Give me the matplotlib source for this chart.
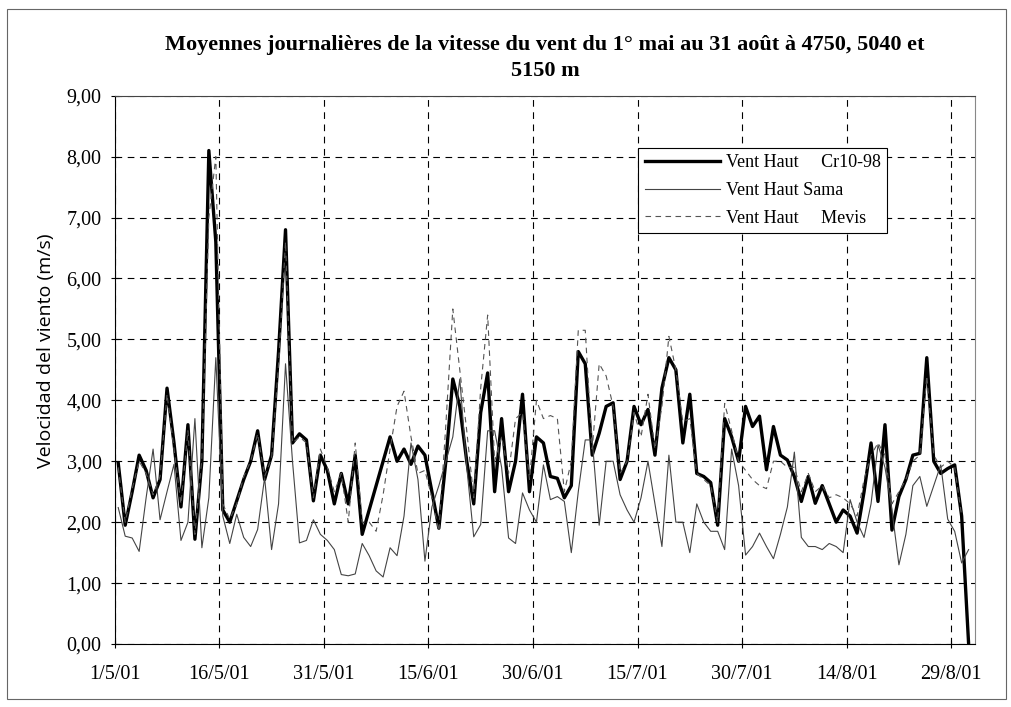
import matplotlib
matplotlib.use("Agg")
import matplotlib.pyplot as plt
from matplotlib.ticker import FuncFormatter, MultipleLocator
from matplotlib.patches import Rectangle
import numpy as np
import pandas as pd

# daily means, 1 May to 31 Aug 2001 (m/s)
cr10 = [2.97, 1.95, 2.5, 3.1, 2.85, 2.4, 2.7, 4.2, 3.3, 2.25,
        3.6, 1.72, 3.0, 8.1, 6.6, 2.2, 2.0, 2.35, 2.7, 3.0,
        3.5, 2.7, 3.1, 4.8, 6.8, 3.3, 3.45, 3.35, 2.35, 3.1,
        2.85, 2.3, 2.8, 2.3, 3.1, 1.8, 2.2, 2.6, 3.0, 3.4,
        3.0, 3.2, 2.95, 3.25, 3.1, 2.5, 1.9, 3.0, 4.35, 3.9,
        3.0, 2.3, 3.8, 4.45, 2.5, 3.7, 2.5, 3.0, 4.1, 2.5,
        3.4, 3.3, 2.75, 2.72, 2.4, 2.6, 4.8, 4.6, 3.1, 3.46,
        3.9, 3.96, 2.7, 3.0, 3.9, 3.6, 3.85, 3.1, 4.2, 4.7,
        4.5, 3.3, 4.1, 2.8, 2.75, 2.65, 1.95, 3.7, 3.4, 3.0,
        3.9, 3.57, 3.74, 2.86, 3.57, 3.1, 3.02, 2.75, 2.34, 2.75,
        2.31, 2.6, 2.3, 2.0, 2.2, 2.1, 1.82, 2.5, 3.3, 2.34,
        3.6, 1.87, 2.42, 2.7, 3.1, 3.13, 4.7, 3.0, 2.8, 2.88,
        2.94, 2.1, 0.0]

sama = [2.24, 1.77, 1.74, 1.52, 2.4, 3.2, 2.04, 2.5, 2.95, 1.7,
        2.0, 3.7, 1.58, 2.4, 4.7, 2.1, 1.65, 2.13, 1.75, 1.6,
        1.88, 2.73, 1.55, 2.3, 4.6, 3.0, 1.66, 1.7, 2.04, 1.8,
        1.7, 1.55, 1.14, 1.12, 1.15, 1.65, 1.45, 1.2, 1.1, 1.58,
        1.45, 2.1, 3.3, 2.7, 1.36, 2.25, 2.6, 3.0, 3.4, 4.35,
        2.9, 1.76, 1.96, 3.5, 3.5, 2.9, 1.74, 1.65, 2.48, 2.2,
        2.0, 2.94, 2.37, 2.42, 2.34, 1.5, 2.5, 3.35, 3.35, 1.95,
        3.0, 3.0, 2.45, 2.2, 2.0, 2.4, 3.0, 2.3, 1.6, 3.1,
        2.0, 2.0, 1.5, 2.3, 2.0, 1.85, 1.85, 1.55, 3.2, 2.6,
        1.46, 1.6, 1.82, 1.6, 1.4, 1.8, 2.25, 3.15, 1.75, 1.6,
        1.6, 1.55, 1.65, 1.6, 1.5, 2.37, 2.0, 1.75, 2.3, 3.27,
        2.9, 2.2, 1.3, 1.8, 2.6, 2.75, 2.26, 2.6, 2.94, 2.05,
        1.85, 1.33, 1.55]

mevis = [2.9, 2.0, 2.55, 3.0, 2.8, 2.45, 2.75, 4.1, 3.2, 2.3,
         3.5, 1.8, 3.05, 7.0, 8.0, 2.3, 2.05, 2.3, 2.75, 3.0,
         3.45, 2.75, 3.05, 4.6, 6.6, 3.3, 3.4, 3.3, 2.4, 3.2,
         2.9, 2.5, 2.8, 2.0, 3.3, 2.0, 2.0, 1.85, 2.45, 3.2,
         3.9, 4.15, 3.4, 2.8, 2.85, 2.4, 1.85, 3.6, 5.5, 4.5,
         3.5, 2.4, 4.2, 5.4, 3.0, 3.4, 2.8, 3.7, 3.8, 2.7,
         4.0, 3.7, 3.75, 3.7, 2.5, 3.0, 5.15, 5.15, 3.2, 4.6,
         4.4, 3.9, 2.8, 3.0, 3.8, 3.4, 4.1, 3.2, 3.9, 5.05,
         4.5, 3.65, 3.7, 2.8, 2.7, 2.6, 2.0, 3.95, 3.5, 3.0,
         2.85, 2.7, 2.6, 2.55, 3.0, 3.0, 2.9, 2.9, 2.5, 2.8,
         2.5, 2.6, 2.4, 2.45, 2.4, 2.3, 2.1, 2.7, 3.1, 3.3,
         3.1, 2.3, 2.5, 2.7, 3.0, 3.1, 4.4, 3.1, 2.9, 3.0,
         2.9, 2.1, np.nan]

labels = ["Vent Haut     Cr10-98", "Vent Haut Sama", "Vent Haut     Mevis"]

days = pd.date_range("2001-05-01 12:00", periods=len(cr10), freq="D")
ticks = pd.date_range("2001-05-01", "2001-08-31", freq="15D")

plt.rcParams["font.family"] = ["Liberation Serif", "DejaVu Serif"]

fig = plt.figure(figsize=(10.11, 7.07), dpi=100)
ax = fig.add_axes([0.1135, 0.0891, 0.8509, 0.7755])

ax.plot(days, cr10, color="black", lw=2.4, label=labels[0], zorder=3)
ax.plot(days, sama, color="#444444", lw=0.8, label=labels[1], zorder=4)
ax.plot(days, mevis, color="#555555", lw=0.8, ls=(0, (5, 4)),
        label=labels[2], zorder=5)

ax.set_ylim(0, 9)
ax.set_xlim(pd.Timestamp("2001-05-01"), pd.Timestamp("2001-09-01 10:00"))
ax.yaxis.set_major_locator(MultipleLocator(1))
ax.yaxis.set_major_formatter(FuncFormatter(lambda v, p: f"{v:.2f}".replace(".", ",")))
ax.set_xticks(ticks)
ax.set_xticklabels([f"{t.day}/{t.month}/{t.strftime('%y')}" for t in ticks])

ax.grid(True, color="black", ls=(0, (6, 5)), lw=0.8)
ax.tick_params(direction="inout", length=6, width=0.8, labelsize=14.5)
ax.tick_params(axis="y", pad=6.5)
ax.tick_params(axis="x", pad=12)
for s in ax.spines.values():
    s.set_linewidth(0.8)
ax.spines["right"].set_color("#888888")
ax.spines["top"].set_color("#444444")

ax.set_ylabel("Velocidad del viento (m/s)", family=["Open Sans", "DejaVu Sans"],
              fontsize=14, labelpad=5)
ax.yaxis.set_label_coords(-0.069, 0.535)
ax.set_title("Moyennes journalières de la vitesse du vent du 1° mai au 31 août à 4750, 5040 et\n5150 m",
             fontsize=16, fontweight="bold", pad=14, linespacing=1.45)

leg = ax.legend(loc="upper left", bbox_to_anchor=(0.6085, 0.905), fontsize=13,
                frameon=True, fancybox=False, edgecolor="black", framealpha=1,
                handlelength=4.2, handletextpad=0.3, borderpad=0.35,
                labelspacing=0.6, borderaxespad=0)
leg.get_frame().set_linewidth(0.8)

fig.patches.append(Rectangle((0.007, 0.012), 0.988, 0.975, transform=fig.transFigure,
                             fill=False, edgecolor="#666666", lw=0.8))

fig.savefig("out.png", dpi=100)
